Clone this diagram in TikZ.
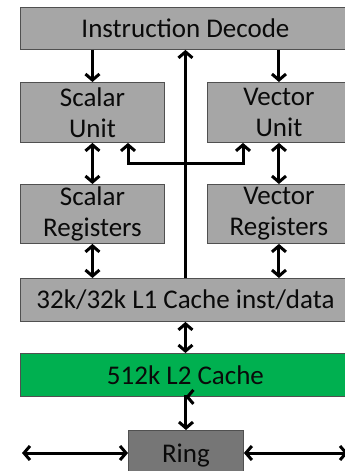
\documentclass[tikz,border=0pt]{standalone}
\usepackage{fontspec}
\setmainfont{Carlito}
\usetikzlibrary{arrows.meta}
\definecolor{boxgray}{HTML}{A6A6A6}
\definecolor{boxedge}{HTML}{505050}
\definecolor{cachegreen}{HTML}{00B050}
\definecolor{ringgray}{HTML}{767676}
\definecolor{inktext}{HTML}{0A0A0A}
\tikzset{
  box/.style={draw=boxedge, fill=boxgray, line width=0.9pt, inner sep=0pt,
    align=center, anchor=north west, text=inktext,
    font=\fontsize{27}{31}\selectfont},
  link/.style={line width=3pt, -{Straight Barb[length=6pt,width=14pt]}},
  dlink/.style={line width=3pt, {Straight Barb[length=6pt,width=14pt]}-{Straight Barb[length=6pt,width=14pt]}},
}
\begin{document}
\begin{tikzpicture}[x=1pt,y=-1pt]
\useasboundingbox (0,0) rectangle (345,471);
\clip (0,0) rectangle (345,471);

% blocks of the core
\node[box, minimum width=330pt, minimum height=42pt] (ID) at (20,7) {Instruction Decode};
\node[box, minimum width=144pt, minimum height=60pt] (SU) at (20,82) {Scalar\\Unit};
\node[box, minimum width=143pt, minimum height=60pt] (VU) at (207,82) {Vector\\Unit};
\node[box, minimum width=144pt, minimum height=59pt] (SR) at (20,184) {Scalar\\Registers};
\node[box, minimum width=143pt, minimum height=59pt] (VR) at (207,184) {Vector\\Registers};
\node[box, minimum width=330pt, minimum height=43pt] (L1) at (20,278) {32k/32k L1 Cache inst/data};
\node[box, fill=cachegreen, minimum width=330pt, minimum height=43pt] (L2) at (20,353) {512k L2 Cache};
\node[box, fill=ringgray, minimum width=115pt, minimum height=50pt] (RING) at (128,430) {Ring};

% decode to the execution units
\draw[link] (ID.south -| SU.center) -- (SU.north);
\draw[link] (ID.south -| VU.center) -- (VU.north);

% path from L1 up to decode, with a bus feeding both units
\draw[link] (L1.north) -- (ID.south);
\coordinate (busL) at (128,163);
\coordinate (busR) at (243,163);
\draw[dlink] (busL |- SU.south) -- (busL) -- (busR) -- (busR |- VU.south);

% units to registers, registers to L1
\draw[dlink] (SU.south) -- (SR.north);
\draw[dlink] (VU.south) -- (VR.north);
\draw[dlink] (SR.south) -- (SR.south |- L1.north);
\draw[dlink] (VR.south) -- (VR.south |- L1.north);

% cache hierarchy and ring
\draw[dlink] (L1.south) -- (L2.north);
\draw[dlink] (L2.south) -- (L2.south -| RING.north) -- (RING.north);
\coordinate (ringW) at (22,453);
\coordinate (ringE) at (348,453);
\draw[dlink] (ringW) -- (ringW -| RING.west);
\draw[dlink] (ringE -| RING.east) -- (ringE);
\end{tikzpicture}
\end{document}
